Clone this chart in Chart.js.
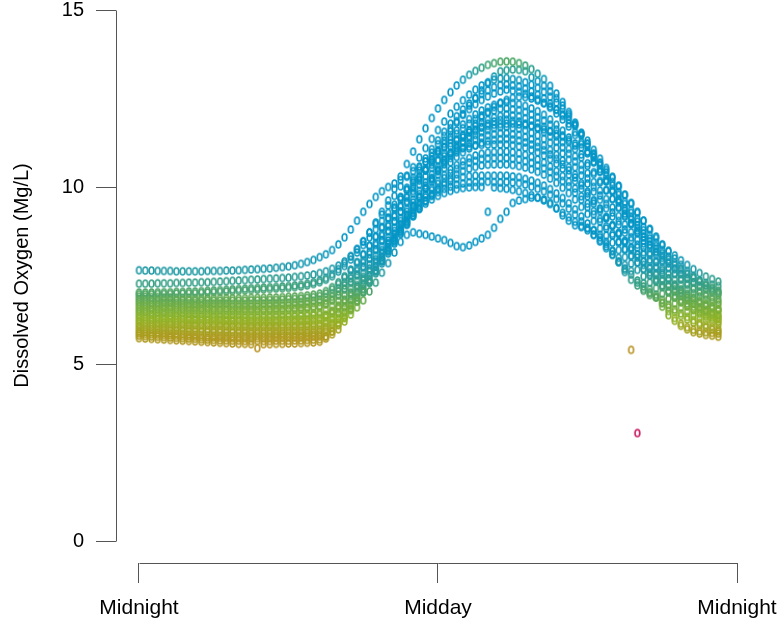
<!DOCTYPE html>
<html>
<head>
<meta charset="utf-8">
<script src="https://cdn.jsdelivr.net/npm/chart.js@4.4.1/dist/chart.umd.min.js"></script>
<style>
html, body { margin: 0; padding: 0; background: #fff; }
#wrap { width: 778px; height: 623px; }
</style>
</head>
<body>
<div id="wrap"><canvas id="doChart" width="778" height="623"></canvas></div>
<script>
// logger times, hours after midnight (15 min steps)
var hours = [0,0.25,0.5,0.75,1,1.25,1.5,1.75,2,2.25,2.5,2.75,3,3.25,3.5,3.75,4,4.25,4.5,4.75,5,5.25,5.5,5.75,6,6.25,6.5,6.75,7,7.25,7.5,7.75,8,8.25,8.5,8.75,9,9.25,9.5,9.75,10,10.25,10.5,10.75,11,11.25,11.5,11.75,12,12.25,12.5,12.75,13,13.25,13.5,13.75,14,14.25,14.5,14.75,15,15.25,15.5,15.75,16,16.25,16.5,16.75,17,17.25,17.5,17.75,18,18.25,18.5,18.75,19,19.25,19.5,19.75,20,20.25,20.5,20.75,21,21.25,21.5,21.75,22,22.25,22.5,22.75,23,23.25];

// dissolved oxygen (mg/L), one array per day
var day01 = [7.65,7.64,7.64,7.63,7.63,7.63,7.62,7.62,7.62,7.62,7.62,7.63,7.63,7.63,7.64,7.64,7.65,7.66,7.67,7.68,7.69,7.70,7.72,7.74,7.76,7.79,7.83,7.88,7.94,8.02,
  8.1,8.22,8.38,8.58,8.8,9.05,9.3,9.52,9.72,9.88,10.0,10.1,10.2,10.32,10.45,10.58,10.72,10.86,11.0,11.12,11.24,11.35,11.45,11.54,11.62,11.68,11.73,11.76,11.78,
  11.79,11.79,11.77,11.75,11.72,11.68,11.63,11.57,11.5,11.42,11.33,11.23,11.12,11.0,10.85,10.68,10.48,10.26,10.02,9.78,9.55,9.3,9.05,8.8,8.56,8.36,8.2,8.07,7.93,7.8,7.68,7.57,7.47,7.4,7.33];
var day02 = [7.27,7.27,7.27,7.28,7.28,7.28,7.29,7.29,7.3,7.3,7.31,7.31,7.32,7.33,7.34,7.35,7.36,7.37,7.38,7.39,7.4,7.41,7.42,7.43,7.44,7.46,7.48,7.5,7.53,7.57,
  7.62,7.69,7.78,7.9,8.05,8.24,8.46,8.72,9.0,9.3,9.62,9.95,10.3,10.65,11.0,11.35,11.66,11.95,12.22,12.46,12.68,12.87,13.03,13.17,13.28,13.37,13.45,13.5,13.54,
  13.55,13.54,13.5,13.43,13.33,13.2,13.05,12.86,12.64,12.4,12.12,11.82,11.52,11.22,10.92,10.62,10.32,10.04,9.78,9.52,9.27,9.02,8.78,8.55,8.33,8.13,7.95,7.8,7.66,7.54,7.44,7.36,7.29,7.24,7.2];
var day03 = [7.02,7.02,7.02,7.03,7.03,7.03,7.04,7.04,7.05,7.05,7.06,7.07,7.08,7.09,7.1,7.11,7.12,7.13,7.14,7.15,7.16,7.17,7.18,7.19,7.2,7.22,7.24,7.27,7.31,7.36,
  7.43,7.54,7.68,7.85,8.04,8.25,8.47,8.71,8.96,9.22,9.48,9.75,10.02,10.29,10.56,10.83,11.1,11.36,11.61,11.85,12.07,12.27,12.45,12.61,12.75,12.87,12.96,13.03,13.07,
  13.08,13.05,13.02,12.96,12.89,12.8,12.69,12.55,12.39,12.21,12.0,11.76,11.49,11.22,10.95,10.68,10.41,10.14,9.86,9.59,9.35,9.11,8.87,8.64,8.43,8.22,8.03,7.85,7.7,7.55,7.43,7.32,7.23,7.15,7.07];
var day04 = [6.9,6.9,6.89,6.89,6.88,6.88,6.87,6.87,6.87,6.86,6.86,6.86,6.86,6.86,6.86,6.86,6.86,6.86,6.87,6.87,6.87,6.88,6.88,6.89,6.9,6.91,6.92,6.94,6.96,6.99,
  7.06,7.17,7.31,7.48,7.67,7.88,8.1,8.34,8.59,8.85,9.11,9.38,9.65,9.92,10.19,10.46,10.72,10.97,11.21,11.44,11.66,11.86,12.04,12.2,12.34,12.46,12.56,12.64,12.7,
  12.75,12.72,12.69,12.63,12.56,12.48,12.37,12.24,12.08,11.91,11.71,11.47,11.21,10.95,10.69,10.43,10.17,9.91,9.65,9.39,9.15,8.92,8.69,8.47,8.26,8.06,7.88,7.7,7.55,7.41,7.3,7.19,7.11,7.03,6.95];
var day05 = [6.76,6.76,6.75,6.75,6.74,6.74,6.73,6.73,6.72,6.72,6.72,6.71,6.71,6.71,6.71,6.7,6.7,6.7,6.7,6.7,6.71,6.71,6.72,6.72,6.73,6.74,6.75,6.77,6.79,6.82,
  6.89,7.0,7.14,7.31,7.5,7.71,7.93,8.17,8.42,8.68,8.94,9.21,9.48,9.75,10.02,10.28,10.53,10.77,11.0,11.22,11.42,11.6,11.77,11.92,12.05,12.16,12.25,12.32,12.37,
  12.4,12.37,12.34,12.29,12.22,12.14,12.04,11.91,11.76,11.59,11.4,11.17,10.92,10.67,10.42,10.17,9.92,9.67,9.41,9.16,8.94,8.72,8.49,8.28,8.08,7.89,7.71,7.55,7.4,7.27,7.15,7.05,6.97,6.89,6.82];
var day06 = [6.62,6.62,6.61,6.61,6.6,6.6,6.59,6.59,6.58,6.58,6.57,6.57,6.56,6.56,6.56,6.55,6.55,6.55,6.55,6.55,6.55,6.55,6.56,6.56,6.57,6.58,6.59,6.6,6.62,6.64,
  6.71,6.82,6.96,7.13,7.32,7.53,7.75,7.99,8.24,8.5,8.76,9.03,9.3,9.56,9.82,10.07,10.31,10.54,10.76,10.96,11.15,11.32,11.47,11.6,11.72,11.82,11.9,11.96,12.01,
  12.05,12.02,12.0,11.94,11.88,11.8,11.7,11.58,11.43,11.27,11.08,10.87,10.63,10.39,10.14,9.9,9.66,9.42,9.18,8.94,8.72,8.51,8.29,8.09,7.89,7.71,7.54,7.38,7.24,7.11,7.0,6.91,6.82,6.75,6.68];
var day07 = [6.48,6.48,6.47,6.46,6.46,6.45,6.44,6.44,6.43,6.43,6.42,6.42,6.41,6.41,6.4,6.4,6.4,6.39,6.39,6.39,6.39,6.39,6.4,6.4,6.41,6.41,6.42,6.43,6.44,6.46,
  6.53,6.64,6.78,6.95,7.14,7.35,7.57,7.81,8.06,8.32,8.58,8.85,9.12,9.38,9.64,9.89,10.13,10.36,10.57,10.77,10.95,11.11,11.25,11.37,11.47,11.55,11.61,11.66,11.69,
  11.7,11.67,11.65,11.6,11.53,11.46,11.36,11.25,11.11,10.95,10.77,10.56,10.33,10.1,9.87,9.64,9.4,9.17,8.94,8.71,8.5,8.29,8.09,7.89,7.71,7.53,7.37,7.21,7.08,6.95,6.85,6.76,6.68,6.61,6.54];
var day08 = [6.34,6.33,6.33,6.32,6.31,6.31,6.3,6.29,6.29,6.28,6.28,6.27,6.27,6.26,6.26,6.25,6.25,6.24,6.24,6.24,6.24,6.24,6.24,6.25,6.25,6.26,6.26,6.27,6.28,6.3,
  6.37,6.48,6.62,6.79,6.98,7.19,7.41,7.65,7.9,8.16,8.42,8.69,8.96,9.22,9.47,9.71,9.94,10.15,10.35,10.53,10.7,10.85,10.98,11.09,11.18,11.25,11.3,11.33,11.35,
  11.36,11.34,11.31,11.26,11.2,11.13,11.04,10.92,10.79,10.64,10.47,10.27,10.05,9.82,9.6,9.38,9.15,8.93,8.71,8.48,8.28,8.09,7.89,7.7,7.52,7.35,7.19,7.04,6.92,6.8,6.7,6.61,6.53,6.46,6.4];
var day09 = [6.2,6.19,6.19,6.18,6.17,6.17,6.16,6.15,6.14,6.14,6.13,6.13,6.12,6.12,6.11,6.11,6.1,6.1,6.09,6.09,6.09,6.09,6.09,6.1,6.1,6.1,6.11,6.12,6.13,6.14,
  6.21,6.32,6.46,6.63,6.82,7.03,7.26,7.5,7.75,8.01,8.28,8.55,8.82,9.08,9.33,9.56,9.78,9.98,10.17,10.34,10.49,10.62,10.73,10.82,10.89,10.94,10.97,10.99,11.0,
  11.0,10.98,10.95,10.91,10.85,10.78,10.69,10.58,10.45,10.31,10.15,9.96,9.74,9.53,9.32,9.1,8.89,8.68,8.46,8.25,8.06,7.87,7.68,7.5,7.33,7.17,7.02,6.88,6.75,6.64,6.54,6.46,6.39,6.32,6.26];
var day10 = [6.06,6.05,6.05,6.04,6.03,6.02,6.02,6.01,6.0,5.99,5.99,5.98,5.97,5.97,5.96,5.96,5.95,5.95,5.94,5.94,5.94,5.94,5.94,5.94,5.95,5.95,5.95,5.96,5.97,5.98,
  6.05,6.16,6.3,6.47,6.67,6.89,7.12,7.37,7.63,7.9,8.17,8.44,8.7,8.95,9.19,9.41,9.61,9.8,9.97,10.12,10.25,10.36,10.45,10.52,10.57,10.61,10.63,10.64,10.64,
  10.64,10.62,10.59,10.55,10.5,10.43,10.35,10.24,10.12,9.98,9.83,9.65,9.44,9.24,9.04,8.83,8.63,8.43,8.22,8.02,7.84,7.66,7.48,7.3,7.14,6.99,6.84,6.71,6.59,6.48,6.39,6.31,6.24,6.18,6.12];
var day11 = [5.92,5.91,5.9,5.89,5.88,5.87,5.86,5.85,5.84,5.83,5.82,5.81,5.81,5.8,5.8,5.79,5.79,5.79,5.79,5.79,5.79,5.79,5.8,5.8,5.8,5.81,5.81,5.82,5.83,5.84,
  5.91,6.02,6.17,6.35,6.56,6.79,7.03,7.29,7.56,7.84,8.12,8.4,8.67,8.93,9.17,9.39,9.59,9.77,9.93,10.06,10.16,10.23,10.28,10.31,10.32,10.32,10.32,10.32,10.32,
  10.32,10.3,10.28,10.23,10.18,10.12,10.04,9.94,9.82,9.69,9.54,9.37,9.17,8.97,8.78,8.58,8.39,8.19,8.0,7.8,7.63,3.05,7.28,7.12,6.96,6.81,6.67,6.54,6.43,6.33,6.24,6.16,6.1,6.04,5.98];
var day12 = [5.8,5.79,5.78,5.77,5.76,5.75,5.74,5.73,5.72,5.71,5.7,5.69,5.68,5.67,5.67,5.66,5.66,5.65,5.65,5.65,5.65,5.65,5.66,5.66,5.66,5.67,5.67,5.68,5.69,5.7,
  5.78,5.92,6.1,6.3,6.52,6.76,7.02,7.3,7.6,7.9,8.2,8.48,8.74,8.98,9.2,9.38,9.53,9.65,9.75,9.83,9.89,9.94,9.97,9.99,10.0,10.0,9.3,9.99,9.97,
  9.95,9.92,9.88,9.83,9.77,9.7,9.62,9.52,9.4,9.27,9.15,9.02,8.9,8.78,8.65,8.5,8.32,8.1,7.88,7.66,5.4,7.3,7.12,7.0,6.9,6.72,6.5,6.3,6.14,6.04,5.97,5.93,5.9,5.88,5.86];
var day13 = [5.73,5.72,5.71,5.7,5.69,5.68,5.67,5.66,5.65,5.64,5.63,5.62,5.61,5.6,5.59,5.58,5.57,5.57,5.56,5.45,5.56,5.56,5.57,5.57,5.58,5.58,5.59,5.6,5.61,5.63,
  5.72,5.84,5.98,6.2,6.4,6.6,6.8,7.05,7.3,7.58,7.85,8.15,8.45,8.65,8.72,8.68,8.65,8.6,8.55,8.5,8.42,8.33,8.3,8.35,8.45,8.55,8.65,8.85,9.1,
  9.3,9.55,9.62,9.66,9.7,9.7,9.65,9.55,9.4,9.2,9.05,8.92,8.87,8.84,8.78,8.65,8.45,8.2,7.88,7.6,7.38,7.22,7.07,6.95,6.88,6.62,6.38,6.22,6.08,5.98,5.9,5.86,5.82,5.8,5.77];
var day14 = [6.55,6.55,6.54,6.54,6.53,6.53,6.52,6.52,6.51,6.51,6.51,6.5,6.5,6.5,6.5,6.49,6.49,6.49,6.49,6.49,6.5,6.5,6.5,6.51,6.52,6.53,6.54,6.56,6.58,6.61,
  6.68,6.79,6.93,7.1,7.29,7.5,7.73,7.97,8.22,8.48,8.75,9.03,9.31,9.6,9.89,10.18,10.47,10.76,11.04,11.31,11.57,11.82,12.06,12.3,12.52,12.73,12.93,13.12,13.27,
  13.3,13.32,13.31,13.27,13.1,12.99,12.86,12.7,12.51,12.3,12.06,11.78,11.46,11.14,10.83,10.51,10.2,9.88,9.56,9.25,8.97,8.69,8.41,8.14,7.89,7.65,7.42,7.21,7.03,6.86,6.72,6.59,6.49,6.39,6.3];
var day15 = [6.27,6.27,6.26,6.26,6.25,6.25,6.24,6.24,6.23,6.23,6.22,6.22,6.21,6.21,6.2,6.2,6.19,6.19,6.18,6.18,6.18,6.18,6.18,6.19,6.19,6.2,6.2,6.21,6.22,6.24,
  6.31,6.42,6.56,6.73,6.92,7.13,7.36,7.6,7.85,8.11,8.38,8.65,8.92,9.19,9.46,9.73,9.99,10.25,10.5,10.74,10.97,11.19,11.4,11.6,11.79,11.96,12.12,12.26,12.38,
  12.46,12.52,12.55,12.54,12.5,12.44,12.37,12.28,12.18,12.05,11.9,11.73,11.53,11.31,11.05,10.8,10.54,10.29,10.04,9.78,9.53,9.27,9.05,8.82,8.6,8.38,8.18,7.98,7.8,7.63,7.49,7.35,7.22,7.12,7.04];
var day16 = [6.13,6.13,6.12,6.12,6.11,6.11,6.1,6.1,6.09,6.09,6.08,6.08,6.07,6.07,6.06,6.06,6.05,6.05,6.04,6.04,6.04,6.04,6.04,6.04,6.04,6.05,6.05,6.06,6.07,6.08,
  6.15,6.26,6.41,6.59,6.79,7.01,7.25,7.5,7.76,8.03,8.31,8.59,8.87,9.15,9.43,9.7,9.96,10.21,10.45,10.68,10.9,11.1,11.28,11.44,11.58,11.7,11.79,11.85,11.89,
  11.9,11.87,11.85,11.79,11.73,11.65,11.55,11.43,11.28,11.12,10.94,10.72,10.48,10.24,10.0,9.76,9.52,9.28,9.04,8.8,8.58,8.37,8.16,7.95,7.76,7.58,7.41,7.25,7.11,6.98,6.87,6.77,6.69,6.62,6.55];
var day17 = [6.83,6.83,6.82,6.82,6.81,6.81,6.8,6.8,6.8,6.79,6.79,6.79,6.79,6.79,6.79,6.79,6.79,6.79,6.8,6.8,6.8,6.81,6.81,6.82,6.83,6.84,6.85,6.87,6.89,6.92,
  6.99,7.11,7.26,7.44,7.64,7.86,8.09,8.34,8.6,8.87,9.14,9.42,9.7,9.98,10.26,10.54,10.81,11.07,11.32,11.56,11.79,12.0,12.19,12.36,12.5,12.63,12.73,12.82,12.88,
  12.9,12.87,12.84,12.78,12.7,12.61,12.5,12.36,12.19,12.01,11.79,11.55,11.27,10.99,10.72,10.44,10.16,9.89,9.61,9.33,9.09,8.84,8.6,8.36,8.14,7.93,7.73,7.55,7.39,7.24,7.12,7.01,6.92,6.83,6.75];
var day18 = [6.69,6.69,6.68,6.68,6.67,6.67,6.66,6.66,6.65,6.65,6.65,6.64,6.64,6.64,6.64,6.63,6.63,6.63,6.63,6.63,6.64,6.64,6.65,6.65,6.66,6.67,6.68,6.7,6.72,6.75,
  6.79,6.9,7.05,7.22,7.42,7.63,7.86,8.1,8.36,8.62,8.89,9.16,9.44,9.7,9.97,10.22,10.47,10.7,10.93,11.13,11.33,11.5,11.66,11.79,11.92,12.02,12.1,12.16,12.21,
  12.22,12.19,12.17,12.12,12.05,11.97,11.88,11.76,11.62,11.46,11.28,11.07,10.84,10.6,10.37,10.13,9.9,9.66,9.43,9.19,8.98,8.77,8.57,8.37,8.18,8.0,7.84,7.68,7.54,7.42,7.31,7.22,7.14,7.07,7.0];
var day19 = [6.41,6.41,6.4,6.39,6.39,6.38,6.37,6.37,6.36,6.36,6.35,6.35,6.34,6.34,6.33,6.33,6.33,6.32,6.32,6.32,6.32,6.32,6.33,6.33,6.34,6.34,6.35,6.36,6.37,6.39,
  6.39,6.5,6.65,6.82,7.02,7.23,7.46,7.7,7.96,8.22,8.49,8.76,9.04,9.3,9.56,9.8,10.04,10.25,10.46,10.64,10.82,10.98,11.11,11.23,11.33,11.4,11.46,11.49,11.52,
  11.52,11.49,11.47,11.41,11.35,11.27,11.17,11.05,10.91,10.75,10.56,10.35,10.11,9.87,9.63,9.39,9.15,8.91,8.67,8.43,8.22,8.01,7.8,7.59,7.4,7.22,7.05,6.89,6.75,6.63,6.52,6.42,6.34,6.27,6.2];
var day20 = [5.99,5.98,5.98,5.97,5.96,5.95,5.95,5.94,5.93,5.92,5.92,5.91,5.9,5.9,5.89,5.89,5.88,5.88,5.87,5.87,5.87,5.87,5.87,5.87,5.88,5.88,5.88,5.89,5.9,5.91,
  5.99,6.11,6.26,6.44,6.65,6.88,7.12,7.38,7.65,7.93,8.21,8.49,8.76,9.02,9.27,9.5,9.71,9.91,10.09,10.25,10.39,10.51,10.61,10.69,10.74,10.79,10.81,10.82,10.82,
  10.82,10.8,10.78,10.73,10.68,10.61,10.53,10.43,10.31,10.17,10.02,9.84,9.64,9.43,9.23,9.03,8.83,8.63,8.43,8.23,8.05,7.87,7.69,7.52,7.36,7.21,7.07,6.93,6.81,6.71,6.62,6.54,6.47,6.41,6.35];
var day21 = [5.86,5.85,5.84,5.83,5.82,5.81,5.8,5.79,5.78,5.77,5.76,5.75,5.75,5.74,5.74,5.73,5.73,5.73,5.73,5.73,5.73,5.73,5.74,5.74,5.74,5.75,5.75,5.76,5.77,5.78,
  5.78,5.92,6.11,6.31,6.54,6.78,7.05,7.33,7.64,7.94,8.25,8.53,8.8,9.04,9.27,9.46,9.62,9.75,9.86,9.95,10.01,10.07,10.1,10.13,10.14,10.15,10.15,10.14,10.13,
  10.15,10.13,10.11,10.07,10.01,9.95,9.88,9.78,9.66,9.54,9.39,9.22,9.03,8.84,8.65,8.46,8.27,8.08,7.89,7.7,7.53,7.36,7.19,7.03,6.88,6.73,6.6,6.47,6.36,6.26,6.17,6.1,6.03,5.97,5.92];
var day22 = [6.97,6.97,6.97,6.98,6.98,6.98,6.99,6.99,7.0,7.0,7.01,7.02,7.03,7.04,7.05,7.06,7.07,7.08,7.09,7.1,7.11,7.12,7.13,7.14,7.15,7.17,7.19,7.22,7.26,7.31,
  7.38,7.48,7.61,7.77,7.95,8.15,8.36,8.58,8.81,9.04,9.27,9.5,9.72,9.93,10.13,10.31,10.48,10.63,10.76,10.87,10.96,11.04,11.1,11.14,11.17,11.19,11.2,11.2,11.2,
  11.2,11.18,11.15,11.11,11.05,10.98,10.89,10.79,10.66,10.52,10.35,10.17,9.95,9.74,9.53,9.32,9.11,8.9,8.69,8.47,8.29,8.1,7.91,7.73,7.56,7.4,7.25,7.11,6.99,6.88,6.78,6.7,6.63,6.56,6.5];

var xTicks = [0, 12, 24];
var xTickLabels = ["Midnight", "Midday", "Midnight"];
var yTicks = [0, 5, 10, 15];
var yTitle = "Dissolved Oxygen (Mg/L)";

var days = [day01, day02, day03, day04, day05, day06, day07, day08, day09, day10, day11,
            day12, day13, day14, day15, day16, day17, day18, day19, day20, day21, day22];

// the time axis sits a little below zero, R style
var xAxisAt = -0.6215;

// colour ramp, low values red -> olive -> green -> blue
var rampStops = [
    [3.0, [204, 20, 96]],
    [5.0, [196, 140, 42]],
    [5.6, [180, 150, 34]],
    [5.9, [168, 158, 30]],
    [6.3, [144, 180, 38]],
    [6.8, [100, 170, 78]],
    [7.25, [56, 160, 132]],
    [7.75, [28, 154, 176]],
    [8.4, [6, 150, 198]],
    [12.95, [2, 150, 200]],
    [13.3, [40, 160, 150]],
    [13.6, [84, 170, 92]]
];
function rampColour(v) {
    var s = rampStops;
    if (v <= s[0][0]) return "rgb(" + s[0][1].join(",") + ")";
    for (var i = 1; i < s.length; i++) {
        if (v <= s[i][0]) {
            var t = (v - s[i - 1][0]) / (s[i][0] - s[i - 1][0]);
            var a = s[i - 1][1], b = s[i][1];
            var rgb = [0, 1, 2].map(function (j) { return Math.round(a[j] + (b[j] - a[j]) * t); });
            return "rgb(" + rgb.join(",") + ")";
        }
    }
    return "rgb(" + s[s.length - 1][1].join(",") + ")";
}

// open "o" glyphs, cached per colour
var glyphCache = {};
function glyph(v) {
    var col = rampColour(v);
    if (!glyphCache[col]) {
        var g = document.createElement("canvas");
        g.width = 9;
        g.height = 11;
        var c = g.getContext("2d");
        c.strokeStyle = col;
        c.lineWidth = 1.6;
        c.beginPath();
        c.ellipse(4.5, 5.5, 2.4, 3.5, 0, 0, Math.PI * 2);
        c.stroke();
        glyphCache[col] = g;
    }
    return glyphCache[col];
}

// detached axis lines, spanning first to last tick
var axisLines = {
    id: "axisLines",
    afterDraw: function (chart) {
        var c = chart.ctx, sx = chart.scales.x, sy = chart.scales.y, a = chart.chartArea;
        c.save();
        c.strokeStyle = "#555";
        c.lineWidth = 1;
        c.beginPath();
        var lx = Math.round(a.left) + 0.5;
        c.moveTo(lx, Math.round(sy.getPixelForValue(yTicks[0])) + 0.5);
        c.lineTo(lx, Math.round(sy.getPixelForValue(yTicks[yTicks.length - 1])) + 0.5);
        var by = Math.round(sy.getPixelForValue(xAxisAt)) + 0.5;
        c.moveTo(Math.round(sx.getPixelForValue(xTicks[0])) + 0.5, by);
        c.lineTo(Math.round(sx.getPixelForValue(xTicks[xTicks.length - 1])) + 0.5, by);
        c.stroke();
        c.restore();
    }
};

var fontFamily = "'Liberation Sans', Arial, Helvetica, sans-serif";

var datasets = days.map(function (vals) {
    return {
        data: vals.map(function (v, i) { return { x: hours[i], y: v }; }),
        showLine: false,
        pointRadius: 3,
        pointHoverRadius: 3,
        pointStyle: function (ctx) { return glyph(ctx.raw ? ctx.raw.y : 7); }
    };
});

var chart = new Chart(document.getElementById("doChart").getContext("2d"), {
    type: "scatter",
    data: { datasets: datasets },
    plugins: [axisLines],
    options: {
        responsive: false,
        animation: false,
        events: [],
        layout: { padding: { top: 10, right: 41, left: 0, bottom: 82 } },
        plugins: {
            legend: { display: false },
            tooltip: { enabled: false }
        },
        scales: {
            x: {
                type: "linear",
                position: { y: xAxisAt },
                min: -0.923,
                max: 24,
                afterFit: function (s) { s.paddingLeft = 0; s.paddingRight = 0; },
                afterBuildTicks: function (s) {
                    s.ticks = xTicks.map(function (v) { return { value: v }; });
                },
                border: { display: false },
                grid: { display: true, drawOnChartArea: false, drawTicks: true, tickLength: 20, color: "#555", tickColor: "#555" },
                ticks: {
                    autoSkip: false,
                    maxRotation: 0,
                    padding: 13,
                    color: "#000",
                    font: { family: fontFamily, size: 21 },
                    callback: function (v, i) { return xTickLabels[i]; }
                }
            },
            y: {
                type: "linear",
                min: 0,
                max: 15,
                afterFit: function (s) { s.width = 116; s.paddingTop = 0; s.paddingBottom = 0; },
                afterBuildTicks: function (s) {
                    s.ticks = yTicks.map(function (v) { return { value: v }; });
                },
                border: { display: false },
                grid: { display: true, drawOnChartArea: false, drawTicks: true, tickLength: 20, color: "#555", tickColor: "#555" },
                ticks: {
                    padding: 12,
                    color: "#000",
                    font: { family: fontFamily, size: 20 },
                    callback: function (v) { return String(v); }
                },
                title: {
                    display: true,
                    text: yTitle,
                    color: "#000",
                    font: { family: fontFamily, size: 20 },
                    padding: { top: 10, bottom: 0 }
                }
            }
        }
    }
});
</script>
</body>
</html>
